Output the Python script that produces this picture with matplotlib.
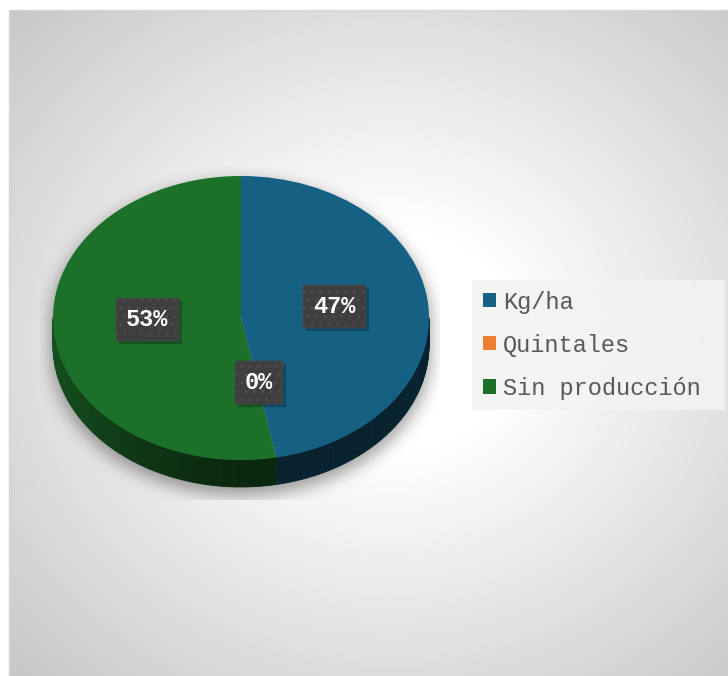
import numpy as np
import matplotlib
matplotlib.use("Agg")
import matplotlib.pyplot as plt
from matplotlib.collections import PolyCollection
from matplotlib.font_manager import FontProperties
from matplotlib.patches import Rectangle

# data
categories = ["Kg/ha", "Quintales", "Sin producción"]
shares = [47, 0, 53]
top_colors = ["#166083", "#ed7d31", "#1d702a"]

W, H = 728, 676
fig = plt.figure(figsize=(W / 100, H / 100), dpi=100, facecolor="white")

# background: radial grey gradient inside the chart frame
ax_bg = fig.add_axes([0, 0, 1, 1])
ax_bg.set_xlim(0, W)
ax_bg.set_ylim(H, 0)
ax_bg.axis("off")
yy, xx = np.mgrid[10:H, 9:W]
dist = np.sqrt(((xx - 390) / 380.0) ** 2 + ((yy - 340) / 340.0) ** 2)
shade = 255 - 52 * np.clip(dist - 0.33, 0, None)
shade = np.clip(shade, 195, 255) / 255.0
ax_bg.imshow(np.dstack([shade] * 3), extent=(9, W, H, 10), aspect="auto",
             interpolation="bilinear", zorder=0)
ax_bg.plot([9, 9, W], [H, 10, 10], color="#d6d6d6", lw=1, zorder=1)

# pie axes laid over the plot area; top surface is an ellipse rx=188, ry=142
cx, cy, rx, ry = 241, 318, 188, 142
left, right, top, bottom = 40, 440, 165, 500
ax = fig.add_axes([left / W, 1 - bottom / H, (right - left) / W, (bottom - top) / H])
depth = 0.19

wedges, texts, autotexts = ax.pie(
    shares, colors=top_colors, startangle=90, counterclock=False, radius=1,
    autopct="%.0f%%", pctdistance=0.5, wedgeprops=dict(linewidth=0),
    textprops=dict(color="white", fontsize=17, fontweight="bold",
                   family="Liberation Mono"))
ax.set_aspect("auto")
x0, x1 = (left - cx) / rx, (right - cx) / rx
y0, y1 = (cy - bottom) / ry, (cy - top) / ry
ax.set_xlim(x0, x1)
ax.set_ylim(y0, y1)
ax.axis("off")
for w in wedges:
    w.set_zorder(3)

# soft drop shadow under the whole disc
gx = np.linspace(x0, x1, right - left)
gy = np.linspace(y1, y0, bottom - top)
GX, GY = np.meshgrid(gx, gy)
shift = 7 / ry
sil = ((GX ** 2 + (GY + shift) ** 2 <= 1.03) |
       (GX ** 2 + (GY + shift + depth) ** 2 <= 1.03) |
       ((np.abs(GX) <= 1.015) & (GY + shift <= 0) & (GY + shift >= -depth))).astype(float)
k = np.arange(-24, 25)
kern = np.exp(-k ** 2 / (2 * 8.0 ** 2))
kern /= kern.sum()
sil = np.apply_along_axis(lambda r: np.convolve(r, kern, mode="same"), 1, sil)
sil = np.apply_along_axis(lambda c: np.convolve(c, kern, mode="same"), 0, sil)
shadow = np.zeros(sil.shape + (4,))
shadow[..., 3] = 0.36 * sil
ax.imshow(shadow, extent=(x0, x1, y0, y1), aspect="auto", zorder=0,
          interpolation="bilinear")


# side walls of the disc, only the front half (180..360 deg) is visible
def side_wall(ax, wedge, depth):
    t1, t2 = wedge.theta1, wedge.theta2
    if t2 - t1 <= 0:
        return
    base = np.array(matplotlib.colors.to_rgb(wedge.get_facecolor()))
    for kk in (-1, 0, 1):
        lo, hi = max(t1 + 360 * kk, 180), min(t2 + 360 * kk, 360)
        if hi <= lo:
            continue
        angs = np.linspace(lo, hi, int(hi - lo) + 2)
        quads, cols = [], []
        for a, b in zip(angs[:-1], angs[1:]):
            ra, rb = np.radians(a), np.radians(b)
            quads.append([(np.cos(ra), np.sin(ra)), (np.cos(rb), np.sin(rb)),
                          (np.cos(rb), np.sin(rb) - depth),
                          (np.cos(ra), np.sin(ra) - depth)])
            m = np.radians((a + b) / 2)
            f = 0.36 + 0.34 * max(0.0, -np.cos(m)) ** 1.5
            cols.append(np.clip(base * f, 0, 1))
        ax.add_collection(PolyCollection(quads, facecolors=cols, edgecolors=cols,
                                         linewidths=0.6, zorder=2))


for w in wedges:
    side_wall(ax, w, depth)

# percentage tags: dark dotted boxes
for t in autotexts:
    px, py = t.get_position()
    t.set_position((px, py + 0.035))
    t.set_zorder(6)
    t.set_bbox(dict(boxstyle="square,pad=0.42", fc="#3f3f3f", ec="#4d4d4d",
                    lw=0.3, hatch=".."))

leg = ax_bg.legend(wedges, categories, loc="upper left", mode="expand",
                   bbox_to_anchor=(472 / W, 1 - 280 / H, 253 / W, 0),
                   bbox_transform=fig.transFigure, frameon=True, fancybox=False,
                   facecolor="#f3f3f3", edgecolor="none", framealpha=0.85,
                   prop=FontProperties(family="Liberation Mono", size=17),
                   handlelength=0.55, handleheight=0.55, handletextpad=0.3,
                   labelspacing=0.85, borderpad=0.45, borderaxespad=0)
for txt in leg.get_texts():
    txt.set_color("#595959")

# small drop shadow behind each tag, placed from the drawn box extents
fig.canvas.draw()
for t in autotexts:
    bb = t.get_bbox_patch().get_window_extent()
    fig.add_artist(Rectangle((bb.x0 + 3, bb.y0 - 3), bb.width, bb.height,
                             transform=None, fc=(0, 0, 0, 0.25), ec="none",
                             zorder=5))
for t in autotexts:
    t.set_zorder(7)
    t.remove()
    fig.add_artist(t)

fig.savefig("out.png", dpi=100, facecolor="white")
